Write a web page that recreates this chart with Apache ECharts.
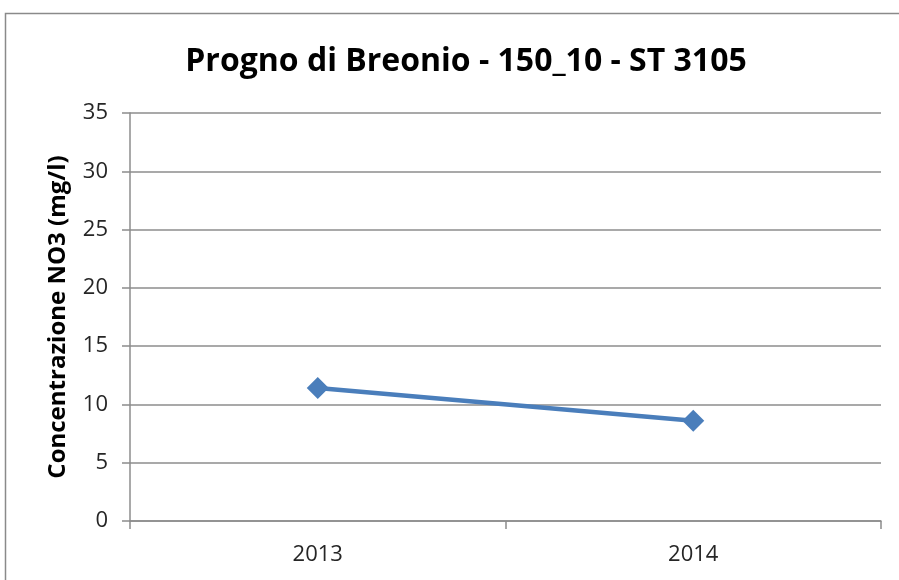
<!DOCTYPE html>
<html>
<head>
<meta charset="utf-8">
<script src="https://cdn.jsdelivr.net/npm/echarts@6/dist/echarts.min.js"></script>
<style>
  html, body { margin: 0; padding: 0; background: #fff; }
  #chart { width: 899px; height: 580px; }
</style>
</head>
<body>
<div id="chart"></div>
<script>
// Annual nitrate concentration at the monitoring station
const years = ['2013', '2014'];
const no3Values = [11.4, 8.6];
const yTicks = [0, 5, 10, 15, 20, 25, 30, 35];

const chart = echarts.init(document.getElementById('chart'), null, { renderer: 'canvas' });

const axisGray = '#8c8c8c';

chart.setOption({
  backgroundColor: '#ffffff',
  animation: false,
  graphic: [{
    type: 'rect',
    shape: { x: 5.5, y: 13.5, width: 900, height: 600 },
    style: { fill: 'none', stroke: '#8a8a8a', lineWidth: 1.5 },
    silent: true
  }],
  title: {
    text: 'Progno di Breonio - 150_10 - ST 3105',
    left: 461,
    top: 41,
    textAlign: 'center',
    textStyle: {
      fontFamily: 'Open Sans',
      fontWeight: 'bold',
      fontSize: 32,
      color: '#000'
    }
  },
  grid: { left: 130, right: 18, top: 113, bottom: 59 },
  xAxis: {
    type: 'category',
    data: years,
    boundaryGap: true,
    axisLine: { lineStyle: { color: axisGray, width: 1.5 } },
    axisTick: { show: true, length: 8, lineStyle: { color: axisGray, width: 1.5 } },
    axisLabel: { fontFamily: 'Open Sans', fontSize: 22, color: '#262626', margin: 23 },
    splitLine: { show: false }
  },
  yAxis: {
    type: 'value',
    min: yTicks[0],
    max: yTicks[yTicks.length - 1],
    interval: 5,
    name: 'Concentrazione NO3 (mg/l)',
    nameLocation: 'middle',
    nameGap: 60,
    nameTextStyle: { fontFamily: 'Open Sans', fontWeight: 'bold', fontSize: 24, color: '#000' },
    axisLine: { show: true, lineStyle: { color: axisGray, width: 1.5 } },
    axisTick: { show: true, length: 8, lineStyle: { color: axisGray, width: 1.5 } },
    axisLabel: { fontFamily: 'Open Sans', fontSize: 22, color: '#262626', margin: 22 },
    splitLine: { show: true, lineStyle: { color: axisGray, width: 1.5 } }
  },
  series: [{
    type: 'line',
    data: no3Values,
    symbol: 'diamond',
    symbolSize: 22,
    lineStyle: { color: '#4a7ebb', width: 4.5 },
    itemStyle: { color: '#4a7ebb' }
  }]
});
</script>
</body>
</html>
